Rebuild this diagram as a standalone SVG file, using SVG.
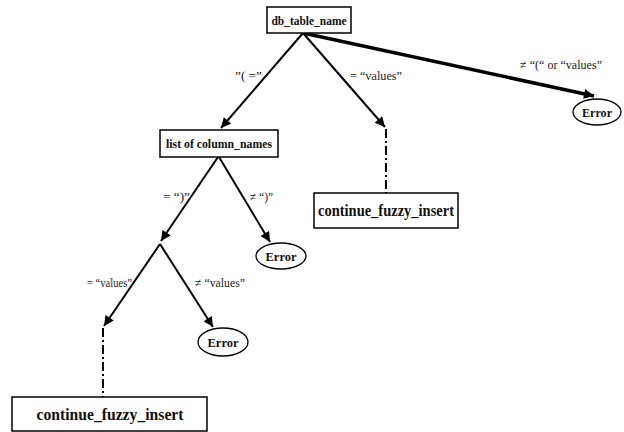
<svg xmlns="http://www.w3.org/2000/svg" width="624" height="432" viewBox="0 0 624 432">
  <style>
    .box { fill: #fff; stroke: #000; stroke-width: 1.5; }
    .oval { fill: #fff; stroke: #000; stroke-width: 1.3; }
    .name { font-family: "Liberation Serif", "DejaVu Serif", serif; font-weight: bold; fill: #111; }
    .lbl { font-family: "Liberation Serif", "DejaVu Serif", serif; font-size: 12.5px; fill: #222; }
    .edge { fill: none; stroke: #000; stroke-width: 2; }
    .heavy { fill: none; stroke: #000; stroke-width: 3.5; }
    .chain { fill: none; stroke: #000; stroke-width: 2; stroke-dasharray: 9 3 2 3; }
  </style>
  <defs>
    <marker id="arrow" viewBox="0 0 10 10" refX="10" refY="5" markerWidth="11" markerHeight="10" markerUnits="userSpaceOnUse" orient="auto">
      <path d="M0,0 L10,5 L0,10 Z" fill="#000"/>
    </marker>
  </defs>
  <rect width="624" height="432" fill="#fff"/>

  <g id="connectors">
    <path class="edge" d="M303,33 L221,128" marker-end="url(#arrow)"/>
    <path class="edge" d="M303,33 L385,127" marker-end="url(#arrow)"/>
    <path class="heavy" d="M303,33 L594,96" marker-end="url(#arrow)"/>
    <path class="chain" d="M386,129 L386,193"/>
    <path class="edge" d="M218,157 L161,241" marker-end="url(#arrow)"/>
    <path class="edge" d="M219,157 L270,242" marker-end="url(#arrow)"/>
    <path class="edge" d="M160,244 L104,326" marker-end="url(#arrow)"/>
    <path class="edge" d="M160,244 L213,327" marker-end="url(#arrow)"/>
    <path class="chain" d="M103,328 L103,397"/>
    <text class="lbl" x="235" y="80" textLength="27" lengthAdjust="spacingAndGlyphs">”( =”</text>
    <text class="lbl" x="350" y="80" textLength="52" lengthAdjust="spacingAndGlyphs">= “values”</text>
    <text class="lbl" x="520" y="69" textLength="82" lengthAdjust="spacingAndGlyphs">≠ “(“ or “values”</text>
    <text class="lbl" x="163" y="201" textLength="27" lengthAdjust="spacingAndGlyphs">= “)”</text>
    <text class="lbl" x="250" y="201" textLength="23" lengthAdjust="spacingAndGlyphs">≠ “)”</text>
    <text class="lbl" x="87" y="287" textLength="45" lengthAdjust="spacingAndGlyphs">= “values”</text>
    <text class="lbl" x="195" y="287" textLength="50" lengthAdjust="spacingAndGlyphs">≠ “values”</text>
  </g>

  <g id="db_table_name">
    <rect class="box" x="267" y="7" width="84" height="26"/>
    <text class="name" x="309" y="24.5" font-size="13" text-anchor="middle" textLength="75" lengthAdjust="spacingAndGlyphs">db_table_name</text>
  </g>

  <g id="list_of_column_names">
    <rect class="box" x="160" y="130" width="118" height="27"/>
    <text class="name" x="219" y="147.5" font-size="12" text-anchor="middle" textLength="106" lengthAdjust="spacingAndGlyphs">list of column_names</text>
  </g>

  <g id="continue_top">
    <rect class="box" x="314" y="193" width="144" height="35"/>
    <text class="name" x="386" y="216" font-size="16" text-anchor="middle" textLength="136" lengthAdjust="spacingAndGlyphs">continue_fuzzy_insert</text>
  </g>

  <g id="continue_bottom">
    <rect class="box" x="12" y="397" width="195" height="34"/>
    <text class="name" x="110" y="420" font-size="17" text-anchor="middle" textLength="147" lengthAdjust="spacingAndGlyphs">continue_fuzzy_insert</text>
  </g>

  <g id="error_top">
    <ellipse class="oval" cx="597" cy="112" rx="24" ry="13"/>
    <text class="name" x="597" y="116.5" font-size="13" text-anchor="middle" textLength="30" lengthAdjust="spacingAndGlyphs">Error</text>
  </g>

  <g id="error_mid">
    <ellipse class="oval" cx="281" cy="256" rx="25" ry="13"/>
    <text class="name" x="281" y="260.5" font-size="13" text-anchor="middle" textLength="31" lengthAdjust="spacingAndGlyphs">Error</text>
  </g>

  <g id="error_low">
    <ellipse class="oval" cx="223" cy="342" rx="25" ry="14"/>
    <text class="name" x="223" y="346.5" font-size="13" text-anchor="middle" textLength="31" lengthAdjust="spacingAndGlyphs">Error</text>
  </g>
</svg>
